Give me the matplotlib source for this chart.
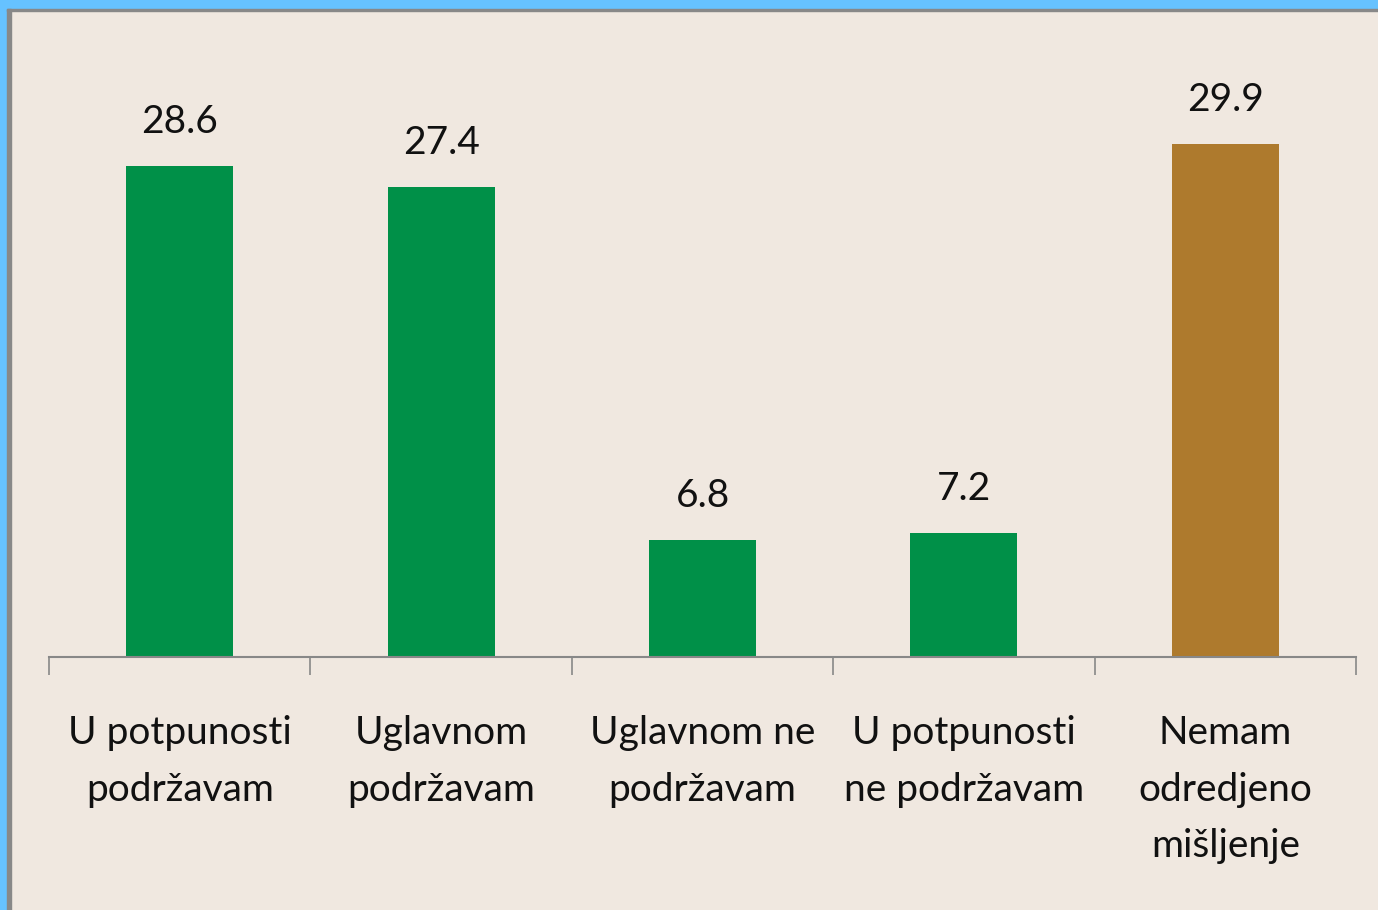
import matplotlib
matplotlib.use("Agg")
import matplotlib.pyplot as plt
from matplotlib.patches import Rectangle

categories = ["U potpunosti\npodržavam", "Uglavnom\npodržavam", "Uglavnom ne\npodržavam",
              "U potpunosti\nne podržavam", "Nemam\nodredjeno\nmišljenje"]
values = [28.6, 27.4, 6.8, 7.2, 29.9]
colors = ["#009048", "#009048", "#009048", "#009048", "#AE7A2D"]
value_labels = ["28.6", "27.4", "6.8", "7.2", "29.9"]

W, H = 1378, 910
fig = plt.figure(figsize=(W / 100, H / 100), dpi=100)
fig.patch.set_facecolor("#F0E8E0")

# blue frame and gray inner edge
fig.patches.append(Rectangle((0, 0), 7 / W, 1, transform=fig.transFigure, color="#66C2FF", zorder=0))
fig.patches.append(Rectangle((0, 1 - 9 / H), 1, 9 / H, transform=fig.transFigure, color="#66C2FF", zorder=0))
fig.patches.append(Rectangle((7 / W, 0), 4 / W, 1 - 9 / H, transform=fig.transFigure, color="#888888", zorder=1))
fig.patches.append(Rectangle((7 / W, 1 - 11 / H), 1 - 7 / W, 2 / H, transform=fig.transFigure, color="#888888", zorder=1))

left, right = 49, 1356
bottom_px, top_px = 657, 11
ax = fig.add_axes([left / W, 1 - bottom_px / H, (right - left) / W, (bottom_px - top_px) / H])
ax.set_facecolor("none")
x = list(range(len(values)))
ax.bar(x, values, width=0.41, color=colors, zorder=2)
ax.set_xlim(-0.5, len(values) - 0.5)
ax.set_ylim(0, (bottom_px - top_px) / 17.17)

for xi, v, lab in zip(x, values, value_labels):
    ax.annotate(lab, (xi, v), xytext=(0, 26), textcoords="offset pixels",
                ha="center", va="bottom", fontsize=28, family="Lato", color="#111111")

for s in ["top", "right", "left"]:
    ax.spines[s].set_visible(False)
ax.spines["bottom"].set_color("#888888")
ax.spines["bottom"].set_linewidth(1.5)
ax.set_yticks([])
ax.set_xticks([i - 0.5 for i in range(len(values) + 1)], minor=False)
ax.set_xticklabels([])
ax.tick_params(axis="x", length=13, width=1.2, color="#888888")
ax.set_xticks(x, minor=True)
ax.set_xticklabels(categories, minor=True, fontsize=28, family="Lato", color="#111111", linespacing=1.70)
ax.tick_params(axis="x", which="minor", length=0, pad=42)
for t in ax.get_xticklabels(minor=True):
    t.set_va("top")

fig.savefig("out.png", dpi=100, facecolor=fig.get_facecolor())
